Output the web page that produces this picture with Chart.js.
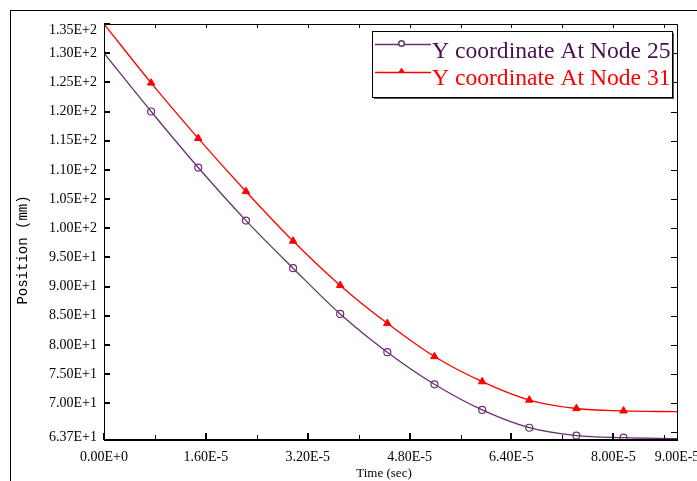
<!DOCTYPE html>
<html>
<head>
<meta charset="utf-8">
<script src="https://cdn.jsdelivr.net/npm/chart.js@4/dist/chart.umd.min.js"></script>
<style>
  html, body { margin: 0; padding: 0; background: #ffffff; }
  #wrap { width: 697px; height: 481px; }
</style>
</head>
<body>
<div id="wrap"><canvas id="c" width="697" height="481"></canvas></div>
<script>
// ---- data ----
const timeSec = [0, 7.4e-6, 1.48e-5, 2.23e-5, 2.97e-5, 3.71e-5, 4.45e-5, 5.19e-5, 5.94e-5, 6.68e-5, 7.42e-5, 8.16e-5, 9.0e-5];
const node25 = [130.0, 120.0, 110.4, 101.3, 93.15, 85.3, 78.75, 73.25, 68.85, 65.8, 64.45, 64.1, 63.92];
const node31 = [135.0, 124.9, 115.4, 106.3, 97.8, 90.2, 83.7, 78.0, 73.7, 70.55, 69.1, 68.7, 68.55];
const markerShown = [false, true, true, true, true, true, true, true, true, true, true, true, false];
const seriesLabels = ['Y coordinate At Node 25', 'Y coordinate At Node 31'];

const xTickValues = [0, 1.6e-5, 3.2e-5, 4.8e-5, 6.4e-5, 8.0e-5, 9.0e-5];
const xTickLabels = ['0.00E+0', '1.60E-5', '3.20E-5', '4.80E-5', '6.40E-5', '8.00E-5', '9.00E-5'];
const xMajorTicks = [0, 1.6e-5, 3.2e-5, 4.8e-5, 6.4e-5, 8.0e-5];
const xMinorTicks = [0.8e-5, 2.4e-5, 4.0e-5, 5.6e-5, 7.2e-5, 8.8e-5];
const yTickValues = [63.7, 70, 75, 80, 85, 90, 95, 100, 105, 110, 115, 120, 125, 130, 135];
const yTickLabels = ['6.37E+1', '7.00E+1', '7.50E+1', '8.00E+1', '8.50E+1', '9.00E+1', '9.50E+1',
  '1.00E+2', '1.05E+2', '1.10E+2', '1.15E+2', '1.20E+2', '1.25E+2', '1.30E+2', '1.35E+2'];
const yRightTicks = [65, 70, 75, 80, 85, 90, 95, 100, 105, 110, 115, 120, 125, 130];
const xTitle = 'Time (sec)';
const yTitle = 'Position (mm)';

// ---- styles ----
const PURPLE = '#6b2f73';
const PURPLE_TEXT = '#4b0f52';
const RED = '#ff0000';
const SERIF = '"Liberation Serif", "Times New Roman", serif';

const toPoints = (vals) => timeSec.map((t, i) => ({ x: t, y: vals[i] }));
const radii = (r) => markerShown.map(s => s ? r : 0);

const decorPlugin = {
  id: 'decor',
  beforeDraw(chart) {
    const ctx = chart.ctx;
    ctx.save();
    ctx.fillStyle = '#ffffff';
    ctx.fillRect(0, 0, chart.width, chart.height);
    ctx.strokeStyle = '#000';
    ctx.lineWidth = 1;
    ctx.strokeRect(10.5, 10.5, 800, 600);
    ctx.restore();
  },
  afterDraw(chart) {
    const ctx = chart.ctx;
    const xs = chart.scales.x, ys = chart.scales.y;
    const a = chart.chartArea;
    ctx.save();
    // plot frame
    ctx.strokeStyle = '#000';
    ctx.lineWidth = 1;
    ctx.beginPath();
    ctx.moveTo(a.left + 0.5, a.bottom); ctx.lineTo(a.left + 0.5, a.top + 0.5);
    ctx.lineTo(a.right + 0.5, a.top + 0.5); ctx.lineTo(a.right + 0.5, a.bottom);
    ctx.stroke();
    ctx.lineWidth = 2;
    ctx.beginPath();
    ctx.moveTo(a.left, a.bottom); ctx.lineTo(a.right + 1, a.bottom);
    ctx.stroke();

    // left ticks
    ctx.lineWidth = 2;
    yTickValues.forEach(v => {
      const y = Math.round(ys.getPixelForValue(v));
      ctx.beginPath(); ctx.moveTo(a.left, y); ctx.lineTo(a.left + 6, y); ctx.stroke();
    });
    // right ticks
    ctx.lineWidth = 1;
    yRightTicks.forEach(v => {
      const y = Math.round(ys.getPixelForValue(v)) + 0.5;
      ctx.beginPath(); ctx.moveTo(a.right, y); ctx.lineTo(a.right - 6, y); ctx.stroke();
    });
    // bottom ticks
    ctx.lineWidth = 2;
    xMajorTicks.forEach(v => {
      const x = Math.round(xs.getPixelForValue(v));
      ctx.beginPath(); ctx.moveTo(x, a.bottom); ctx.lineTo(x, a.bottom - 7); ctx.stroke();
    });
    ctx.lineWidth = 1;
    xMinorTicks.forEach(v => {
      const x = Math.round(xs.getPixelForValue(v)) + 0.5;
      ctx.beginPath(); ctx.moveTo(x, a.bottom); ctx.lineTo(x, a.bottom - 5); ctx.stroke();
    });
    // top ticks
    xMinorTicks.concat(xMajorTicks.slice(1)).forEach(v => {
      const x = Math.round(xs.getPixelForValue(v)) + 0.5;
      ctx.beginPath(); ctx.moveTo(x, a.top); ctx.lineTo(x, a.top + 4); ctx.stroke();
    });

    // tick labels
    ctx.fillStyle = '#000';
    ctx.font = '14px ' + SERIF;
    ctx.textAlign = 'right';
    ctx.textBaseline = 'middle';
    yTickValues.forEach((v, i) => {
      let y = ys.getPixelForValue(v);
      y = Math.min(Math.max(y, a.top + 6), a.bottom - 2.5);
      ctx.fillText(yTickLabels[i], a.left - 7, y);
    });
    ctx.textAlign = 'center';
    xTickValues.forEach((v, i) => {
      ctx.fillText(xTickLabels[i], xs.getPixelForValue(v), a.bottom + 17);
    });

    // axis titles
    ctx.font = '13px ' + SERIF;
    ctx.fillText(xTitle, 384, 474);
    ctx.save();
    ctx.translate(23, 250);
    ctx.rotate(-Math.PI / 2);
    ctx.font = '14px "Liberation Mono", monospace';
    ctx.fillText(yTitle, 0, 0);
    ctx.restore();

    // legend box
    const lx = 372, ly = 31, lw = 300, lh = 66;
    ctx.fillStyle = '#555';
    ctx.fillRect(lx + 2, ly + lh, lw, 2);
    ctx.fillRect(lx + lw, ly + 2, 2, lh);
    ctx.fillStyle = '#fff';
    ctx.fillRect(lx, ly, lw, lh);
    ctx.strokeStyle = '#000';
    ctx.lineWidth = 1;
    ctx.strokeRect(lx + 0.5, ly + 0.5, lw, lh);

    const rows = [
      { y: 44.5, base: 57.5, line: PURPLE, text: PURPLE_TEXT, style: 'circle' },
      { y: 72.5, base: 85, line: RED, text: RED, style: 'triangle' }
    ];
    ctx.textAlign = 'left';
    ctx.textBaseline = 'alphabetic';
    ctx.font = '23.6px ' + SERIF;
    rows.forEach((r, i) => {
      ctx.strokeStyle = r.line;
      ctx.lineWidth = 1.5;
      ctx.beginPath(); ctx.moveTo(375, r.y); ctx.lineTo(431, r.y); ctx.stroke();
      if (r.style === 'circle') {
        ctx.fillStyle = '#fff';
        ctx.beginPath(); ctx.arc(401.5, r.y - 1, 2.8, 0, Math.PI * 2); ctx.fill(); ctx.stroke();
      } else {
        ctx.fillStyle = r.line;
        ctx.beginPath();
        ctx.moveTo(401.5, r.y - 5); ctx.lineTo(405, r.y + 0.5); ctx.lineTo(398, r.y + 0.5);
        ctx.closePath(); ctx.fill();
      }
      ctx.fillStyle = r.text;
      ctx.fillText(chart.data.datasets[i].label, 432, r.base);
    });
    ctx.restore();
  }
};

new Chart(document.getElementById('c'), {
  type: 'line',
  data: {
    datasets: [
      {
        label: seriesLabels[0],
        data: toPoints(node25),
        borderColor: PURPLE,
        borderWidth: 1.3,
        cubicInterpolationMode: 'monotone',
        pointStyle: 'circle',
        pointRadius: radii(3.5),
        pointBorderColor: PURPLE,
        pointBackgroundColor: 'rgba(255,255,255,0)',
        pointBorderWidth: 1.2,
        fill: false
      },
      {
        label: seriesLabels[1],
        data: toPoints(node31),
        borderColor: RED,
        borderWidth: 1.3,
        cubicInterpolationMode: 'monotone',
        pointStyle: 'triangle',
        pointRadius: radii(4.3),
        pointBorderColor: RED,
        pointBackgroundColor: RED,
        pointBorderWidth: 1,
        fill: false
      }
    ]
  },
  options: {
    responsive: false,
    animation: false,
    devicePixelRatio: 1,
    layout: { padding: { left: 104, top: 24, right: 20, bottom: 41 } },
    plugins: { legend: { display: false }, tooltip: { enabled: false } },
    scales: {
      x: { type: 'linear', min: 0, max: 9e-5, display: false },
      y: { type: 'linear', min: 63.7, max: 135, display: false }
    }
  },
  plugins: [decorPlugin]
});
</script>
</body>
</html>
